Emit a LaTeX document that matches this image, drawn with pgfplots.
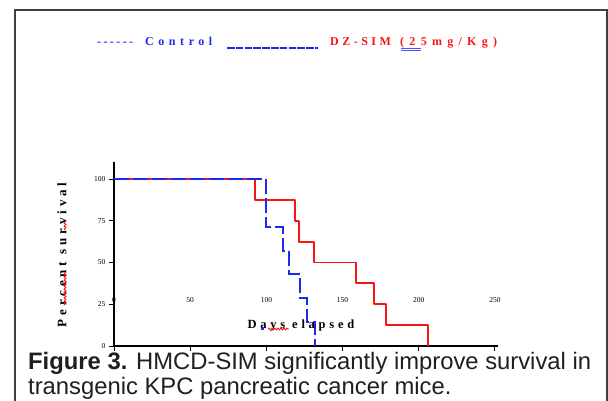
\documentclass[border=0pt]{standalone}
\usepackage{fontspec}
\setmainfont{Liberation Serif}
\newfontfamily\capfont{Liberation Sans}
\newfontfamily\legfont[LetterSpace=38]{Liberation Serif}
\newfontfamily\dzfont[LetterSpace=29]{Liberation Serif}
\newfontfamily\dosefont[LetterSpace=44]{Liberation Serif}
\newfontfamily\dashfont[LetterSpace=20]{Liberation Serif}
\newfontfamily\lblfont[LetterSpace=30]{Liberation Serif}
\usepackage{pgfplots}
\pgfplotsset{compat=1.18}
\usetikzlibrary{decorations.pathmorphing}
\definecolor{ctrlblue}{RGB}{30,40,240}
\definecolor{simred}{RGB}{250,20,20}
\definecolor{framegray}{RGB}{64,64,64}

\begin{document}
\begin{tikzpicture}
\path[use as bounding box] (0pt,0pt) rectangle (608pt,400pt);
\draw[framegray, line width=1.6pt] (15pt,-5pt) -- (15pt,390pt) -- (607pt,390pt) -- (607pt,-5pt);

% text legend at the top
\begin{scope}[every node/.style={anchor=base west, inner sep=0}]
\node[text=ctrlblue, font=\dashfont\bfseries\fontsize{12}{14}\selectfont] at (97pt,354pt) {------};
\node[text=ctrlblue, font=\legfont\bfseries\fontsize{12}{14}\selectfont] at (145pt,354pt) {Control};
\draw[ctrlblue, line width=1.6pt, dash pattern=on 7.6pt off 1.2pt] (227pt,351.8pt) -- (318pt,351.8pt);
\node[text=simred, font=\dzfont\bfseries\fontsize{12}{14}\selectfont] at (330pt,354pt) {DZ-SIM};
\node[text=simred, font=\dosefont\bfseries\fontsize{12}{14}\selectfont] at (400pt,354pt) {(25mg/Kg)};
\draw[ctrlblue!80, line width=0.7pt] (401pt,351.5pt) -- (421pt,351.5pt) (401pt,349.8pt) -- (421pt,349.8pt);
\end{scope}

\begin{axis}[
  at={(114pt,54pt)}, anchor=south west,
  scale only axis, width=384pt, height=183.7pt,
  xmin=0, xmax=252, ymin=0, ymax=110,
  axis x line=bottom, axis y line=left,
  axis line style={-, line width=1.3pt},
  xtick={0,50,...,250}, ytick={0,25,...,100},
  tick align=outside, major tick length=5pt,
  tick style={black, line width=1pt},
  ticklabel style={font=\fontsize{7.5}{8}\selectfont},
  xticklabel style={yshift=57pt},
  /pgf/number format/assume math mode=true,
  clip=false,
]
\addplot[draw=simred, line width=1.8pt, line join=round, const plot] coordinates {
  (0,100) (92.5,87.5) (119,75) (121.5,62.5) (131,50)
  (159,37.5) (170.5,25) (178.5,12.5) (206,0)
};
\addplot[draw=ctrlblue, line width=1.8pt, const plot, dash pattern=on 15pt off 4pt] coordinates {
  (0,100) (99.5,71.4) (111,57.1) (115,42.9) (122,28.6) (126.5,14.3) (132,0)
};
\end{axis}

\node[rotate=90, inner sep=0, font=\lblfont\bfseries\fontsize{13}{15}\selectfont] at (62pt,145pt) {Percent survival};
\node[inner sep=0, font=\lblfont\bfseries\fontsize{12.5}{14}\selectfont] at (301pt,74pt) {Days elapsed};
% spell-check marks of the source figure
\begin{scope}[line width=0.9pt, decorate, decoration={snake, amplitude=0.9pt, segment length=3pt}]
\draw[simred, decorate] (65pt,95pt) -- (65pt,128pt);
\draw[simred, decorate] (65pt,170pt) -- (65pt,178pt);
\draw[simred, decorate] (268pt,71pt) -- (289pt,71pt);
\draw[ctrlblue, line width=1.4pt] (261pt,71pt) -- (264pt,71pt);
\end{scope}

\node[anchor=base west, inner sep=0, text=black!88, font=\capfont\fontsize{23.8}{26}\selectfont]
  at (28pt,31pt) {\textbf{Figure 3.} HMCD-SIM significantly improve survival in};
\node[anchor=base west, inner sep=0, text=black!88, font=\capfont\fontsize{23.8}{26}\selectfont]
  at (28pt,6pt) {transgenic KPC pancreatic cancer mice.};
\end{tikzpicture}
\end{document}
